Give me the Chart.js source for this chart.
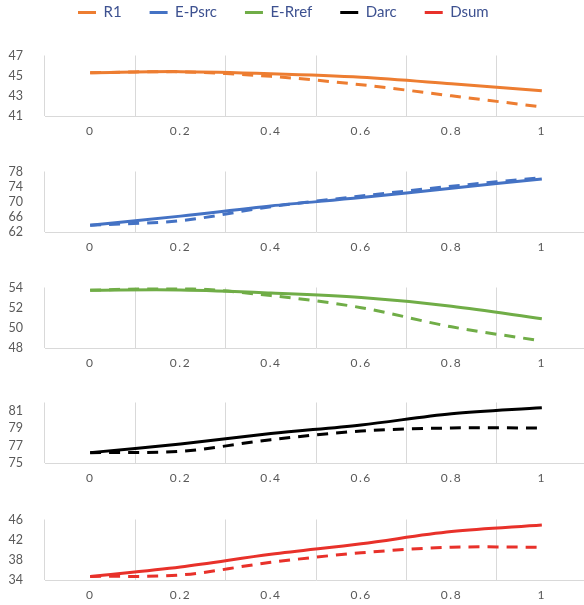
<!DOCTYPE html>
<html lang="en">
<head>
<meta charset="UTF-8">
<title>Sensitivity panels</title>
<script src="https://cdn.jsdelivr.net/npm/chart.js"></script>
<style>
  body { margin: 0; background: #fff; overflow: hidden; width: 584px; height: 605px; position: relative; }
  .box { position: absolute; left: 0; }
  #legendBox { top: -23px; }
</style>
</head>
<body>
<div id="legendBox" class="box"><canvas id="legend" width="584" height="200"></canvas></div>
<div class="box" style="top:34px"><canvas id="p0" width="600" height="112"></canvas></div>
<div class="box" style="top:150px"><canvas id="p1" width="600" height="112"></canvas></div>
<div class="box" style="top:266px"><canvas id="p2" width="600" height="112"></canvas></div>
<div class="box" style="top:381px"><canvas id="p3" width="600" height="112"></canvas></div>
<div class="box" style="top:498px"><canvas id="p4" width="600" height="112"></canvas></div>

<script>
    const xLabels = ['0', '0.2', '0.4', '0.6', '0.8', '1'];
    const seriesNames = ['R1', 'E-Psrc', 'E-Rref', 'Darc', 'Dsum'];
    const seriesColors = ['#ED7D31', '#4472C4', '#70AD47', '#000000', '#E8312A'];

    // solid = first line, dashed = second line of each panel
    const r1Solid = [45.3, 45.4, 45.2, 44.85, 44.2, 43.5];
    const r1Dashed = [45.3, 45.38, 44.93, 44.1, 43.0, 41.9];
    const psrcSolid = [63.8, 66.2, 68.9, 71.1, 73.6, 76.0];
    const psrcDashed = [63.8, 65.0, 68.7, 71.5, 74.1, 76.4];
    const rrefSolid = [53.73, 53.75, 53.45, 53.0, 52.15, 50.9];
    const rrefDashed = [53.73, 53.95, 53.2, 52.0, 50.1, 48.7];
    const darcSolid = [76.2, 77.2, 78.4, 79.4, 80.7, 81.4];
    const darcDashed = [76.2, 76.35, 77.7, 78.7, 79.05, 79.05];
    const dsumSolid = [34.7, 36.6, 39.1, 41.2, 43.6, 44.9];
    const dsumDashed = [34.7, 35.0, 37.5, 39.4, 40.5, 40.5];

    const yTicksR1 = [41, 43, 45, 47];
    const yTicksPsrc = [62, 66, 70, 74, 78];
    const yTicksRref = [48, 50, 52, 54];
    const yTicksDarc = [75, 77, 79, 81];
    const yTicksDsum = [34, 38, 42, 46];
    const yMin = [41, 62, 48, 75, 34];
    const yMax = [47, 78, 54, 82, 46];

    const panels = [
        [r1Solid, r1Dashed, yTicksR1],
        [psrcSolid, psrcDashed, yTicksPsrc],
        [rrefSolid, rrefDashed, yTicksRref],
        [darcSolid, darcDashed, yTicksDarc],
        [dsumSolid, dsumDashed, yTicksDsum]
    ];

    Chart.defaults.font.family = 'Lato';
    const tickColor = '#595959';
    const gridColor = '#d9d9d9';

    // x labels are drawn last (ticks.z = 1), so spacing set here only hits them
    const spacedXLabels = {
        id: 'spacedXLabels',
        afterDatasetsDraw(chart) { chart.ctx.letterSpacing = '1.5px'; },
        afterDraw(chart) { chart.ctx.letterSpacing = '0px'; }
    };

    // legend only chart
    new Chart(document.getElementById('legend'), {
        type: 'line',
        data: {
            datasets: seriesNames.map((name, i) => ({
                label: name, data: [], borderColor: seriesColors[i],
                backgroundColor: seriesColors[i], borderWidth: 0
            }))
        },
        options: {
            responsive: false,
            animation: false,
            layout: { padding: { left: 50 } },
            scales: { x: { display: false }, y: { display: false } },
            plugins: {
                tooltip: { enabled: false },
                legend: {
                    align: 'start',
                    labels: { boxWidth: 18, boxHeight: 3, padding: 28, color: '#3D5190', font: { size: 15 } }
                }
            }
        }
    });

    panels.forEach(([solid, dashed, ticks], i) => {
        new Chart(document.getElementById('p' + i), {
            type: 'line',
            data: {
                labels: xLabels,
                datasets: [
                    { label: seriesNames[i], data: solid, borderColor: seriesColors[i], borderWidth: 3, pointRadius: 0, tension: 0.33 },
                    { label: seriesNames[i] + ' dashed', data: dashed, borderColor: seriesColors[i], borderWidth: 3, borderDash: [11, 8], pointRadius: 0, tension: 0.33 }
                ]
            },
            options: {
                responsive: false,
                animation: false,
                layout: { padding: { top: 8, right: 13, left: 0, bottom: 0 } },
                plugins: { legend: { display: false }, tooltip: { enabled: false } },
                scales: {
                    x: {
                        offset: true,
                        grid: { offset: true, color: gridColor, drawTicks: false },
                        border: { color: gridColor },
                        ticks: { color: tickColor, font: { size: 12 }, padding: 8, maxRotation: 0, autoSkip: false, z: 1 },
                        afterFit: s => { s.height = 30; }
                    },
                    y: {
                        min: yMin[i],
                        max: yMax[i],
                        grid: { display: false },
                        border: { display: false },
                        ticks: { color: tickColor, font: { size: 12.5 }, padding: 14, autoSkip: false },
                        afterBuildTicks: s => { s.ticks = ticks.map(v => ({ value: v })); },
                        afterFit: s => { s.width = 45; }
                    }
                }
            },
            plugins: [spacedXLabels]
        });
    });
</script>
</body>
</html>
